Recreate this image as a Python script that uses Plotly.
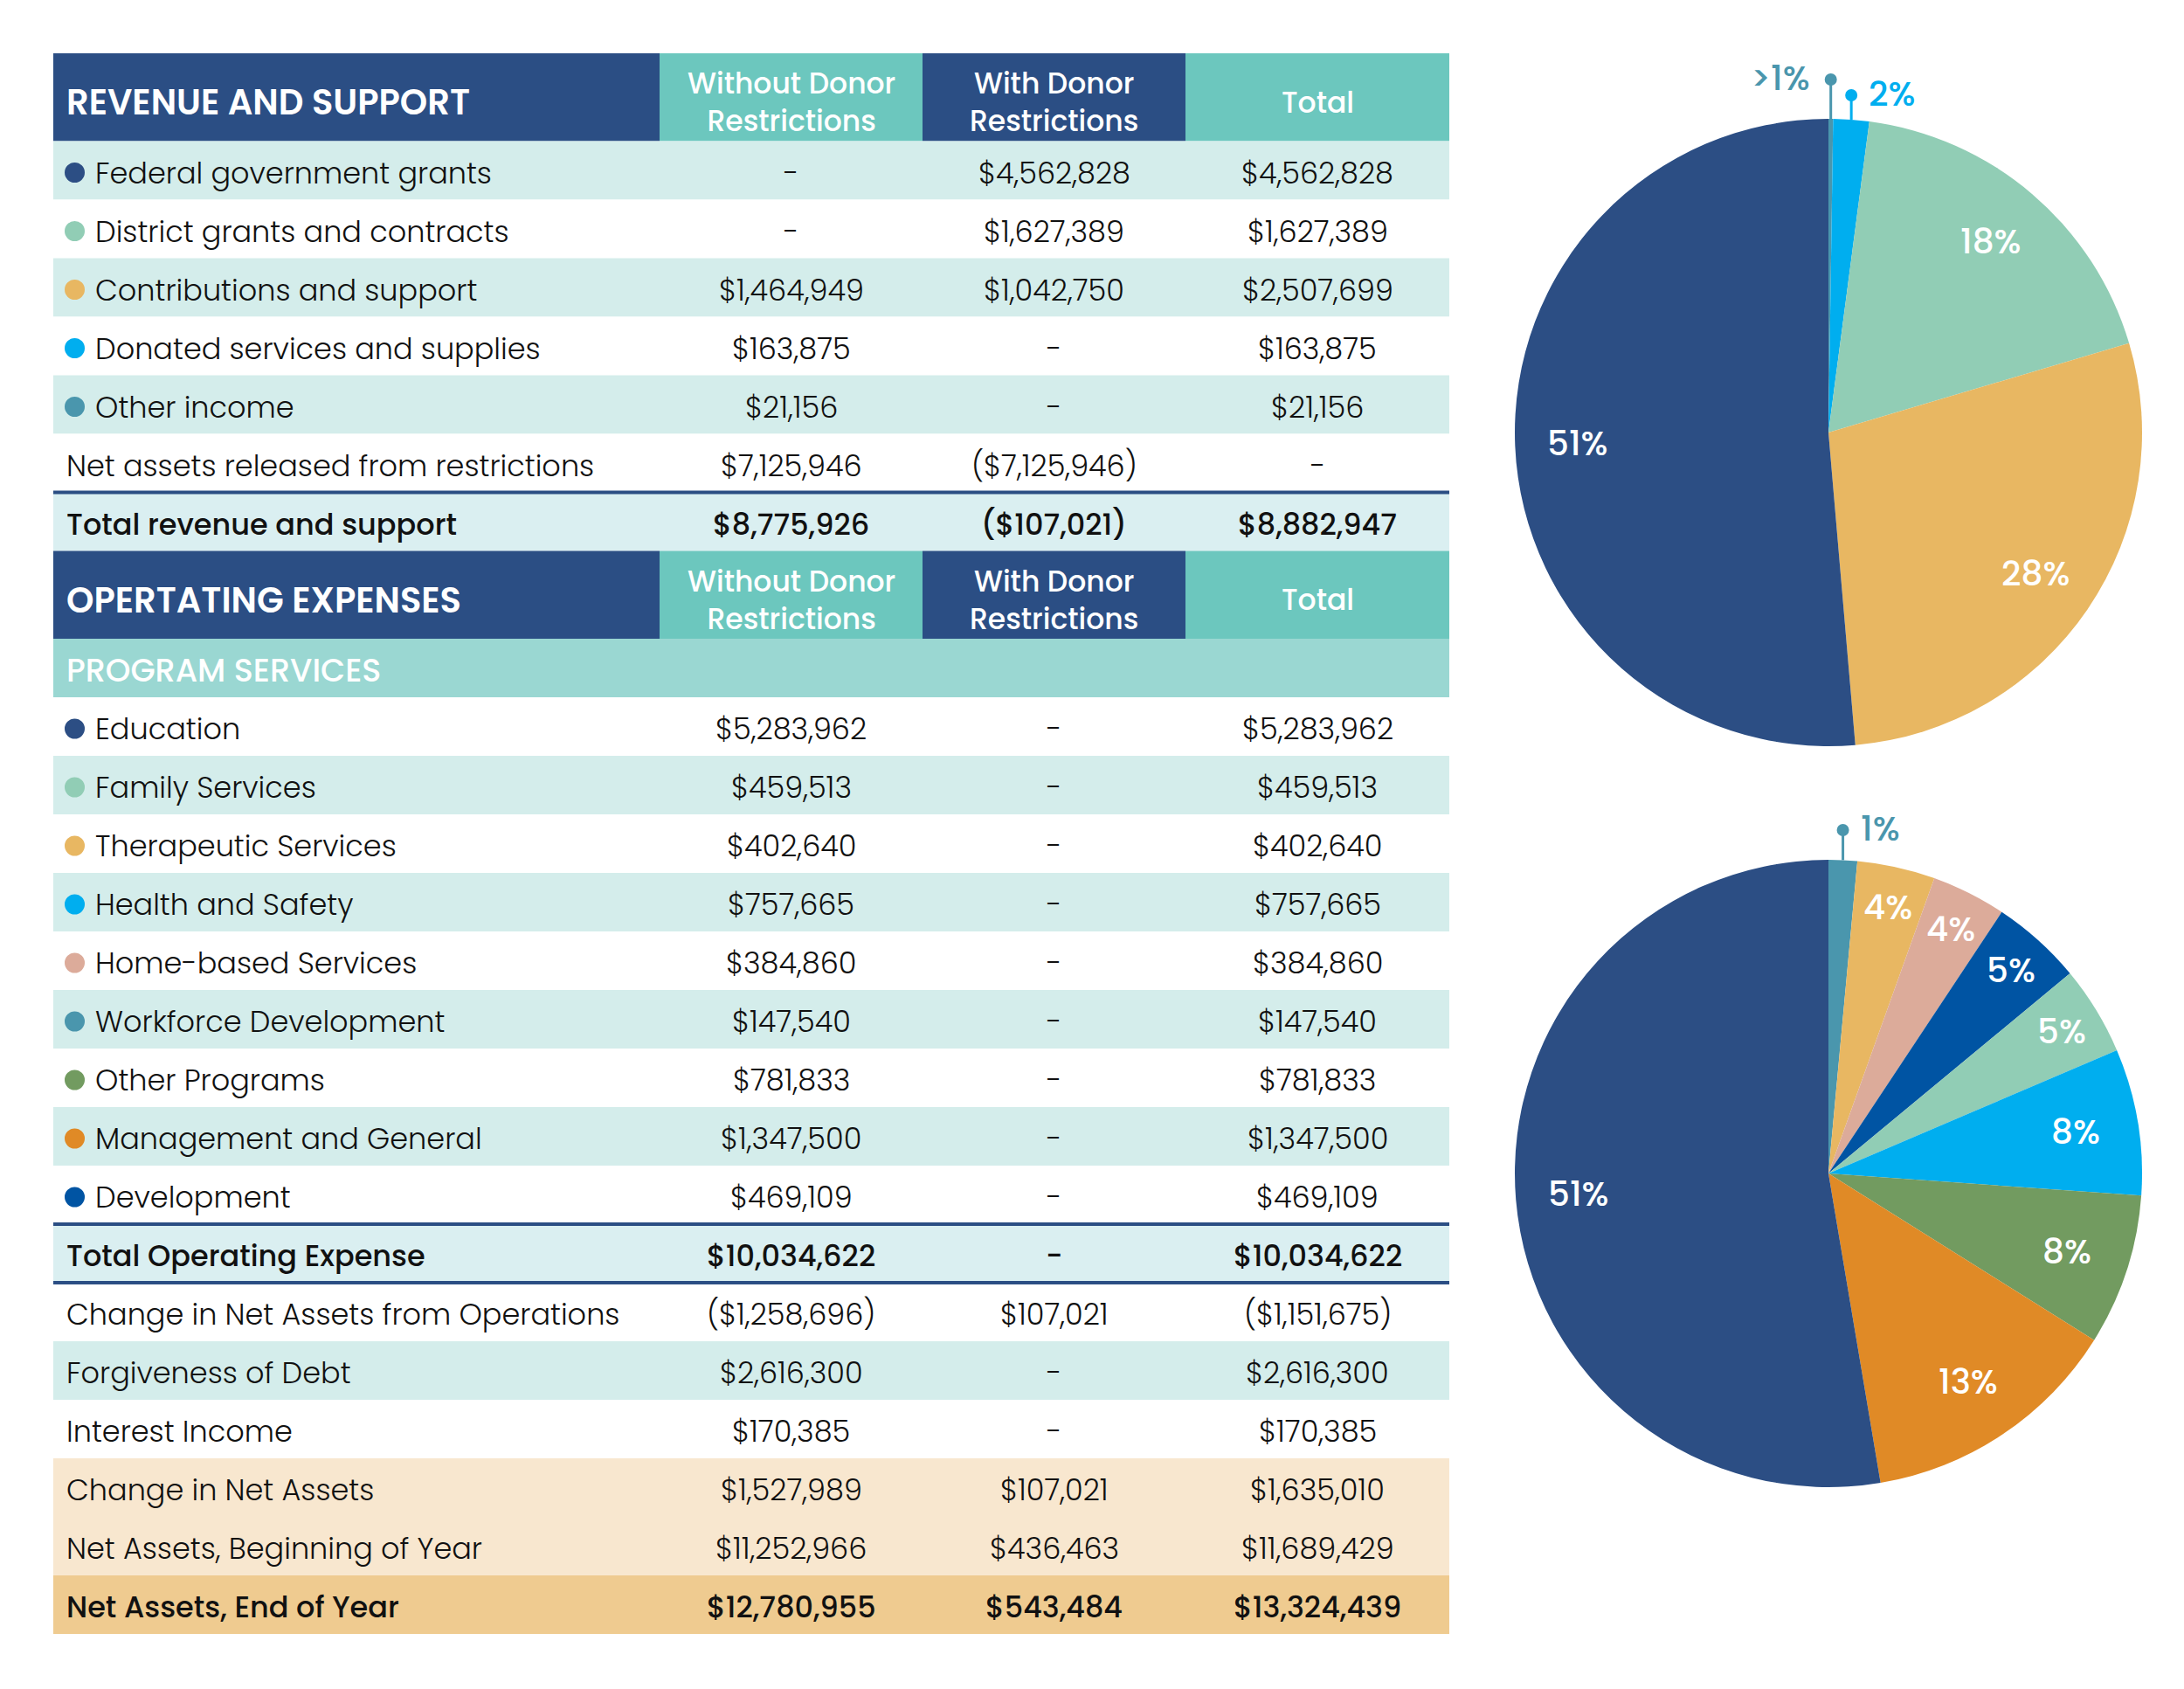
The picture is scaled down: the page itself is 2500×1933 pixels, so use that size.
import math
import plotly.graph_objects as go

# ---- data ----
col_heads = ["Without Donor<br>Restrictions", "With Donor<br>Restrictions", "Total"]

rev_labels = ["Federal government grants", "District grants and contracts", "Contributions and support",
              "Donated services and supplies", "Other income", "Net assets released from restrictions"]
rev_without = ["-", "-", "$1,464,949", "$163,875", "$21,156", "$7,125,946"]
rev_with = ["$4,562,828", "$1,627,389", "$1,042,750", "-", "-", "($7,125,946)"]
rev_total = ["$4,562,828", "$1,627,389", "$2,507,699", "$163,875", "$21,156", "-"]
rev_sum_row = ["Total revenue and support", "$8,775,926", "($107,021)", "$8,882,947"]

exp_labels = ["Education", "Family Services", "Therapeutic Services", "Health and Safety",
              "Home-based Services", "Workforce Development", "Other Programs",
              "Management and General", "Development"]
exp_without = ["$5,283,962", "$459,513", "$402,640", "$757,665", "$384,860", "$147,540",
               "$781,833", "$1,347,500", "$469,109"]
exp_with = ["-", "-", "-", "-", "-", "-", "-", "-", "-"]
exp_total = ["$5,283,962", "$459,513", "$402,640", "$757,665", "$384,860", "$147,540",
             "$781,833", "$1,347,500", "$469,109"]
exp_sum_row = ["Total Operating Expense", "$10,034,622", "-", "$10,034,622"]

net_labels = ["Change in Net Assets from Operations", "Forgiveness of Debt", "Interest Income",
              "Change in Net Assets", "Net Assets, Beginning of Year"]
net_without = ["($1,258,696)", "$2,616,300", "$170,385", "$1,527,989", "$11,252,966"]
net_with = ["$107,021", "-", "-", "$107,021", "$436,463"]
net_total = ["($1,151,675)", "$2,616,300", "$170,385", "$1,635,010", "$11,689,429"]
end_row = ["Net Assets, End of Year", "$12,780,955", "$543,484", "$13,324,439"]

# pies, clockwise from 12 o'clock
rev_pie_names = ["Other income", "Donated services and supplies", "District grants and contracts",
                 "Contributions and support", "Federal government grants"]
rev_pie_values = [21156, 163875, 1627389, 2507699, 4562828]
rev_pie_text = [">1%", "2%", "18%", "28%", "51%"]

exp_pie_names = ["Workforce Development", "Therapeutic Services", "Home-based Services", "Development",
                 "Family Services", "Health and Safety", "Other Programs", "Management and General",
                 "Education"]
exp_pie_values = [147540, 402640, 384860, 469109, 459513, 757665, 781833, 1347500, 5283962]
exp_pie_text = ["1%", "4%", "4%", "5%", "5%", "8%", "8%", "13%", "51%"]

# ---- style ----
W, H = 2500, 1933
FONT = "Poppins, Open Sans, sans-serif"
NAVY = "#2B4E84"
TEAL = "#6CC7BE"
LIGHT = "#D4EDEB"
SUMBG = "#DAEFF1"
PROG = "#9AD7D2"
BEIGE = "#F8E7CF"
BEIGE2 = "#EFCB90"
INK = "#111111"

COLORS = {
    "Federal government grants": "#2C4E84", "District grants and contracts": "#91CDB5",
    "Contributions and support": "#E8B762", "Donated services and supplies": "#00AEEF",
    "Other income": "#4A96AD", "Education": "#2C4E84", "Family Services": "#91CDB5",
    "Therapeutic Services": "#E8B762", "Health and Safety": "#00AEEF",
    "Home-based Services": "#DCAB9A", "Workforce Development": "#4A96AD",
    "Other Programs": "#729B60", "Management and General": "#E08A26", "Development": "#0054A3",
}

X0, Y0 = 61, 61
COL_W = [694, 301, 301, 302]
ROW_H = 67
HEAD_H = 1.5 * ROW_H
edges = [X0]
for w in COL_W:
    edges.append(edges[-1] + w)
centers = [(edges[i] + edges[i + 1]) / 2 for i in range(4)]
FS = 33.5

fig = go.Figure()
shapes = []
anns = []


def txt(x, y, s, anchor="center", color=INK, size=FS, weight=300):
    anns.append(dict(x=x, y=y, text=s, xref="x", yref="y", showarrow=False, xanchor=anchor,
                     yanchor="middle", font=dict(family=FONT, size=size, color=color, weight=weight)))


def rect(x0, y0, x1, y1, color):
    shapes.append(dict(type="rect", xref="x", yref="y", x0=x0, x1=x1, y0=y0, y1=y1,
                       fillcolor=color, line=dict(width=0), layer="below"))


def header(y, title):
    fills = [NAVY, TEAL, NAVY, TEAL]
    for i in range(4):
        rect(edges[i], y, edges[i + 1], y + HEAD_H, fills[i])
    mid = y + HEAD_H / 2 + 6
    txt(X0 + 13, mid, title, "left", "white", 40, 600)
    for i, s in enumerate(col_heads):
        txt(centers[i + 1], mid, s, "center", "white", 33, 500)
    return y + HEAD_H


def row(y, cells, fill, weight=300, dot=None):
    rect(edges[0], y, edges[4], y + ROW_H, fill)
    cy = y + ROW_H / 2 + 3
    if dot:
        shapes.append(dict(type="circle", xref="x", yref="y", x0=X0 + 13, x1=X0 + 36,
                           y0=cy - 12, y1=cy + 11, fillcolor=dot, line=dict(width=0)))
        txt(X0 + 46, cy, cells[0], "left", weight=weight)
    else:
        txt(X0 + 13, cy, cells[0], "left", weight=weight)
    for i in range(1, 4):
        txt(centers[i], cy, cells[i], weight=weight)
    return y + ROW_H


def rule(y):
    shapes.append(dict(type="line", xref="x", yref="y", x0=edges[0], x1=edges[4], y0=y, y1=y,
                       line=dict(color=NAVY, width=4)))


y = header(Y0, "REVENUE AND SUPPORT")
for i, lab in enumerate(rev_labels):
    fill = LIGHT if i % 2 == 0 else "white"
    y = row(y, [lab, rev_without[i], rev_with[i], rev_total[i]], fill, dot=COLORS.get(lab))
rule(y)
y = row(y, rev_sum_row, SUMBG, weight=500)

y = header(y, "OPERTATING EXPENSES")
rect(edges[0], y, edges[4], y + ROW_H, PROG)
txt(X0 + 13, y + ROW_H / 2 + 3, "PROGRAM SERVICES", "left", "white", 36.5, 500)
y += ROW_H
for i, lab in enumerate(exp_labels):
    fill = "white" if i % 2 == 0 else LIGHT
    y = row(y, [lab, exp_without[i], exp_with[i], exp_total[i]], fill, dot=COLORS.get(lab))
rule(y)
y = row(y, exp_sum_row, SUMBG, weight=500)
rule(y)
net_fill = ["white", LIGHT, "white", BEIGE, BEIGE]
for i, lab in enumerate(net_labels):
    y = row(y, [lab, net_without[i], net_with[i], net_total[i]], net_fill[i])
y = row(y, end_row, BEIGE2, weight=500)


# ---- pies ----
R = 359
PIE_X = 2093
PFS = 39


def pie(names, values, texts, cy, leaders):
    cx = PIE_X
    cols = [COLORS[n] for n in names]
    fig.add_trace(go.Pie(labels=names, values=values, sort=False, direction="clockwise", rotation=0,
                         marker=dict(colors=cols, line=dict(width=0)), textinfo="none",
                         hoverinfo="label+value", showlegend=False,
                         domain=dict(x=[(cx - R) / W, (cx + R) / W],
                                     y=[1 - (cy + R) / H, 1 - (cy - R) / H])))
    tot = sum(values)
    cum = 0
    for i, v in enumerate(values):
        th = 2 * math.pi * (cum + v / 2) / tot
        cum += v
        if i in leaders:
            rise, side = leaders[i]
            lx = cx + R * math.sin(th)
            ly = cy - R * math.cos(th)
            top = cy - R - rise
            shapes.append(dict(type="line", xref="x", yref="y", x0=lx, x1=lx, y0=ly, y1=top,
                               line=dict(color=cols[i], width=3)))
            shapes.append(dict(type="circle", xref="x", yref="y", x0=lx - 7, x1=lx + 7,
                               y0=top - 7, y1=top + 7, fillcolor=cols[i], line=dict(width=0)))
            if side == "left":
                txt(lx - 22, top - 2, texts[i], "right", cols[i], PFS, 500)
            else:
                txt(lx + 18, top - 2, texts[i], "left", cols[i], PFS, 500)
        else:
            k = 0.8 if v / tot > 0.06 else 0.87
            txt(cx + k * R * math.sin(th), cy - k * R * math.cos(th), texts[i], "center",
                "white", PFS, 500)


pie(rev_pie_names, rev_pie_values, rev_pie_text, 495, {0: (45, "left"), 1: (27, "right")})
pie(exp_pie_names, exp_pie_values, exp_pie_text, 1343, {0: (34, "right")})

fig.update_layout(
    width=W, height=H, margin=dict(l=0, r=0, t=0, b=0),
    paper_bgcolor="white", plot_bgcolor="white",
    xaxis=dict(range=[0, W], domain=[0, 1], visible=False, fixedrange=True),
    yaxis=dict(range=[H, 0], domain=[0, 1], visible=False, fixedrange=True),
    shapes=shapes, annotations=anns,
)

fig.write_html("out.html", config={"displayModeBar": False},
               post_script="document.body.style.margin='0px';")
